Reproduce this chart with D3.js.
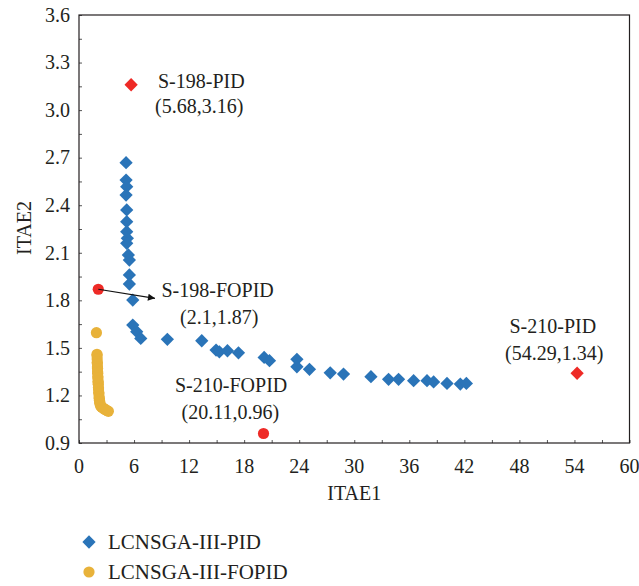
<!DOCTYPE html>
<html>
<head>
<meta charset="utf-8">
<script src="https://cdn.jsdelivr.net/npm/d3@7"></script>
<style>
  html, body { margin: 0; padding: 0; background: #fff; }
  svg text { font-family: "Liberation Serif", "DejaVu Serif", serif; fill: #231f20; }
</style>
</head>
<body>
<svg id="chart" width="639" height="586"></svg>
<script>
// ---- data ----
const pidX = [5.13, 5.13, 5.20, 5.13, 5.20, 5.20, 5.20, 5.27, 5.20, 5.38, 5.49, 5.49, 5.49, 5.86, 5.86, 6.29, 6.73, 9.63, 13.38,
              14.94, 15.30, 16.18, 17.38, 20.18, 20.76, 23.75, 23.75, 25.12, 27.38, 28.83, 31.82, 33.74, 34.83, 36.47, 37.93, 38.65, 40.11, 41.56, 42.22];
const pidY = [2.668, 2.559, 2.517, 2.464, 2.370, 2.296, 2.233, 2.191, 2.160, 2.086, 2.054, 1.960, 1.903, 1.802, 1.644, 1.602, 1.560, 1.554, 1.545,
              1.486, 1.475, 1.482, 1.469, 1.440, 1.419, 1.428, 1.381, 1.365, 1.343, 1.335, 1.318, 1.302, 1.302, 1.293, 1.293, 1.285, 1.276, 1.272, 1.276];
const fopidX = [1.90, 1.96, 1.97, 1.98, 1.99, 2.00, 2.01, 2.02, 2.03, 2.04, 2.05, 2.06, 2.08, 2.09, 2.10, 2.12, 2.13, 2.15, 2.17, 2.19,
                2.21, 2.23, 2.25, 2.28, 2.32, 2.40, 2.50, 2.62, 2.75, 2.90, 3.05, 3.20];
const fopidY = [1.596, 1.46, 1.45, 1.43, 1.41, 1.40, 1.38, 1.37, 1.35, 1.34, 1.32, 1.31, 1.29, 1.28, 1.27, 1.25, 1.24, 1.22, 1.21, 1.19,
                1.18, 1.17, 1.16, 1.15, 1.14, 1.13, 1.125, 1.12, 1.115, 1.11, 1.105, 1.10];
const refNames = ["S-198-PID", "S-198-FOPID", "S-210-FOPID", "S-210-PID"];
const refX = [5.68, 2.1, 20.11, 54.29];
const refY = [3.16, 1.87, 0.96, 1.34];
const refShape = ["diamond", "circle", "circle", "diamond"];
const xTicks = [0, 6, 12, 18, 24, 30, 36, 42, 48, 54, 60];
const yTicks = [0.9, 1.2, 1.5, 1.8, 2.1, 2.4, 2.7, 3.0, 3.3, 3.6];
const legendLabels = ["LCNSGA-III-PID", "LCNSGA-III-FOPID"];

// ---- layout ----
const svg = d3.select("#chart");
const L = 79, R = 629.5, T = 15, B = 443;
const x = d3.scaleLinear().domain([0, 60]).range([L, R]);
const y = d3.scaleLinear().domain([0.9, 3.6]).range([B, T]);
const BLUE = "#2a74b8", YELLOW = "#e8b23a", RED = "#ee2a26", AX = "#231f20";
const FS = 20;

// axes with inward ticks
const minorX = d3.range(0, 61, 3);
const minorY = d3.range(0, 19).map(i => 0.9 + i * 0.15);
const gx = svg.append("g").attr("transform", `translate(0,${B})`)
  .call(d3.axisBottom(x).tickValues(minorX).tickSize(-3).tickFormat(""));
const gy = svg.append("g").attr("transform", `translate(${L},0)`)
  .call(d3.axisLeft(y).tickValues(minorY).tickSize(-3).tickFormat(""));
[gx, gy].forEach(g => { g.select(".domain").remove(); g.selectAll("line").attr("stroke", "#555"); });

svg.append("g").selectAll("text").data(xTicks).join("text")
  .attr("x", d => x(d)).attr("y", 473).attr("text-anchor", "middle")
  .attr("font-size", FS).text(d => d);
svg.append("g").selectAll("text").data(yTicks).join("text")
  .attr("x", 70).attr("y", d => y(d)).attr("dy", "0.34em").attr("text-anchor", "end")
  .attr("font-size", FS).text(d => d3.format(".1f")(d));

svg.append("rect").attr("x", L).attr("y", T).attr("width", R - L).attr("height", B - T)
  .attr("fill", "none").attr("stroke", AX).attr("stroke-width", 1.2);

svg.append("text").attr("x", (L + R) / 2).attr("y", 500).attr("text-anchor", "middle")
  .attr("font-size", FS).text("ITAE1");
svg.append("text").attr("transform", "translate(31,228) rotate(-90)").attr("text-anchor", "middle")
  .attr("font-size", FS).text("ITAE2");

// marks
const diamond = d3.symbol().type(d3.symbolSquare).size(88)();
const pts = pidX.map((v, i) => [v, pidY[i]]);
svg.append("g").selectAll("path").data(pts).join("path")
  .attr("d", diamond)
  .attr("transform", d => `translate(${x(d[0])},${y(d[1])}) rotate(45)`)
  .attr("fill", BLUE);
const fp = fopidX.map((v, i) => [v, fopidY[i]]);
svg.append("g").selectAll("circle").data(fp).join("circle")
  .attr("cx", d => x(d[0])).attr("cy", d => y(d[1])).attr("r", 5.6).attr("fill", YELLOW);

// reference points
const refs = refNames.map((n, i) => ({ n, x: refX[i], y: refY[i], s: refShape[i] }));
refs.forEach(r => {
  if (r.s === "diamond") {
    svg.append("path").attr("d", diamond)
      .attr("transform", `translate(${x(r.x)},${y(r.y)}) rotate(45)`).attr("fill", RED);
  } else {
    svg.append("circle").attr("cx", x(r.x)).attr("cy", y(r.y)).attr("r", 5.6).attr("fill", RED);
  }
});

// arrow
svg.append("defs").append("marker").attr("id", "ah").attr("viewBox", "0 0 10 10")
  .attr("refX", 10).attr("refY", 5).attr("markerWidth", 14).attr("markerHeight", 7)
  .attr("markerUnits", "userSpaceOnUse").attr("orient", "auto")
  .append("path").attr("d", "M0,0 L10,5 L0,10 z").attr("fill", "#111");
svg.append("line").attr("x1", x(refX[1])).attr("y1", y(refY[1])).attr("x2", 155).attr("y2", 298.3)
  .attr("stroke", "#111").attr("stroke-width", 1.2).attr("marker-end", "url(#ah)");

// annotation labels
const ann = [
  { t: refNames[0], x: 158, y: 88 }, { t: `(${refX[0]},${refY[0]})`, x: 155, y: 113 },
  { t: refNames[1], x: 161.5, y: 297 }, { t: `(${refX[1]},${refY[1]})`, x: 180, y: 323.5 },
  { t: refNames[2], x: 175, y: 392 }, { t: `(${refX[2]},${refY[2]})`, x: 181.5, y: 418.5 },
  { t: refNames[3], x: 509.5, y: 333 }, { t: `(${refX[3]},${refY[3]})`, x: 505, y: 360 }
];
svg.append("g").selectAll("text").data(ann).join("text")
  .attr("x", d => d.x).attr("y", d => d.y).attr("font-size", FS).text(d => d.t);

// legend
svg.append("path").attr("d", diamond).attr("transform", "translate(89,542) rotate(45)").attr("fill", BLUE);
svg.append("circle").attr("cx", 89).attr("cy", 572).attr("r", 5.6).attr("fill", YELLOW);
svg.append("text").attr("x", 108).attr("y", 548.5).attr("font-size", 21).text(legendLabels[0]);
svg.append("text").attr("x", 108).attr("y", 578.5).attr("font-size", 21).text(legendLabels[1]);
</script>
</body>
</html>
